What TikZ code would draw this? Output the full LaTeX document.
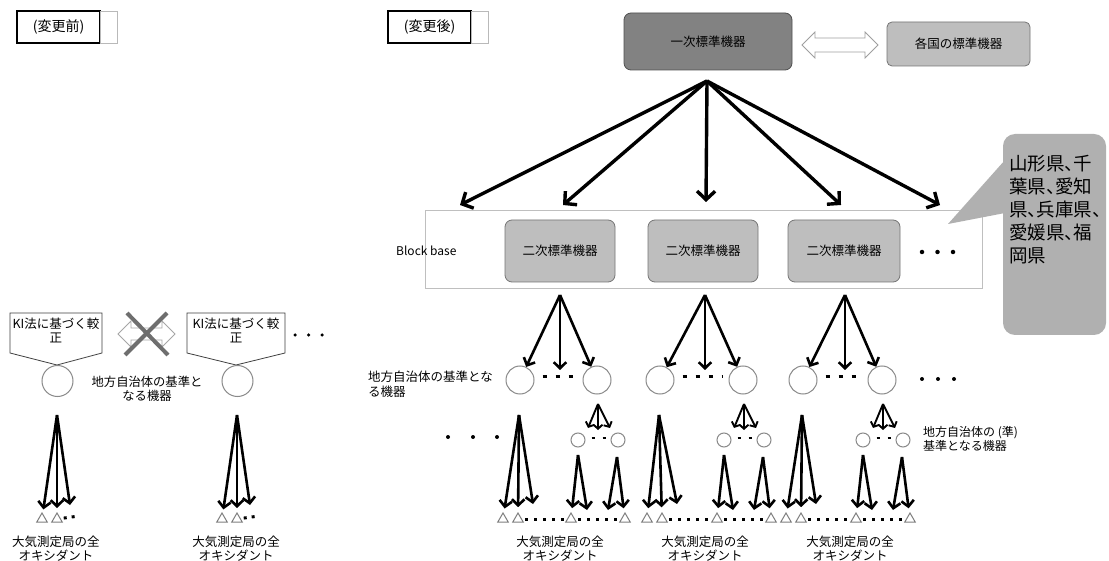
\documentclass[tikz,border=0pt]{standalone}
\usepackage{fontspec}
\newfontfamily\jp{Noto Sans CJK JP}
\newfontfamily\jpp[RawFeature=+palt]{Noto Sans CJK JP}
\usetikzlibrary{arrows.meta,shapes.geometric}
\definecolor{primfill}{HTML}{828282}
\definecolor{primline}{HTML}{505050}
\definecolor{secfill}{HTML}{BEBEBE}
\definecolor{secline}{HTML}{767676}
\definecolor{callfill}{HTML}{B0B0B0}
\definecolor{circline}{HTML}{8A8A8A}
\definecolor{triline}{HTML}{7E7E7E}
\definecolor{crossc}{HTML}{6E6E6E}
\begin{document}
\begin{tikzpicture}[x=1pt,y=-1pt,
  tagmain/.style={draw=black, line width=1.4pt, minimum width=83pt, minimum height=32pt, inner sep=0, font=\jp\fontsize{14}{16}\selectfont},
  tagside/.style={draw=gray!55, line width=0.8pt, minimum width=17pt, minimum height=32pt, inner sep=0},
  prim/.style={rounded corners=7pt, draw=primline, fill=primfill, line width=0.8pt, inner sep=0, font=\jp\fontsize{12.5}{14}\selectfont},
  sec/.style={rounded corners=7pt, draw=secline, fill=secfill, line width=0.8pt, inner sep=0, font=\jp\fontsize{12.5}{14}\selectfont},
  bigarr/.style={line width=3.4pt, -{Straight Barb[length=8.5pt,width=18pt]}},
  arr/.style={line width=2.6pt, -{Straight Barb[length=6pt,width=12.5pt]}},
  smallarr/.style={line width=1.9pt, -{Straight Barb[length=4pt,width=9pt]}},
  circ/.style={circle, draw=circline, line width=1pt, minimum size=28pt, inner sep=0},
  scirc/.style={circle, draw=circline, line width=1pt, minimum size=14pt, inner sep=0},
  tri/.style={regular polygon, regular polygon sides=3, draw=triline, line width=1pt, minimum size=12pt, inner sep=0},
  dashline/.style={line width=3pt, dash pattern=on 3pt off 6pt},
  lbl/.style={font=\jp\fontsize{12.5}{14}\selectfont, align=center, inner sep=0},
  lbll/.style={font=\jp\fontsize{12.5}{15}\selectfont, align=left, inner sep=0},
  dotc/.style={circle, fill=black, inner sep=0, minimum size=4.5pt}
]
\useasboundingbox (0,0) rectangle (1109,561);
\fill[white] (0,0) rectangle (1109,561);

% ---------- tags
\node[tagmain] (tagA) at (58.5,27) {(変更前)};
\node[tagside] (tagAs) at (108.5,27) {};
\node[tagmain] (tagB) at (429.5,27) {(変更後)};
\node[tagside] (tagBs) at (480,27) {};

% ---------- LEFT (before)
\draw[draw=black!75, line width=0.8pt, fill=white] (10,313) -- (102,313) -- (102,353) -- (57,365) -- (10,353) -- cycle;
\node[lbl] (kiA) at (56,330) {KI法に基づく較\\正};
\draw[draw=black!75, line width=0.8pt, fill=white] (187,313) -- (285,313) -- (285,353) -- (236,365) -- (187,353) -- cycle;
\node[lbl] (kiB) at (236,330) {KI法に基づく較\\正};
% crossed double arrow
\draw[draw=gray!70, line width=0.8pt, fill=white] (118,334) -- (131,321) -- (131,328) -- (162,328) -- (162,321) -- (175,334) -- (162,347) -- (162,340) -- (131,340) -- (131,347) -- cycle;
\draw[crossc, line width=4pt] (127,313) -- (168,355);
\draw[crossc, line width=4pt] (167,313) -- (125,355);
\node[dotc, minimum size=3.5pt] (ld1) at (295,335) {};
\node[dotc, minimum size=3.5pt] (ld2) at (308.5,335) {};
\node[dotc, minimum size=3.5pt] (ld3) at (322,335) {};

\node[circ, minimum size=31pt] (lcA) at (57.5,381) {};
\node[circ, minimum size=31pt] (lcB) at (237.5,381) {};
\node[lbl, font=\jp\fontsize{12.3}{14.5}\selectfont] (llab) at (147,389) {地方自治体の基準と\\なる機器};

\foreach \x/\i in {57/A,237/B} {
  \coordinate (lap\i) at (\x,415);
  \node[tri] (lt\i 1) at (\x-15,519) {};
  \node[tri] (lt\i 2) at (\x,519) {};
  \coordinate (lfree\i) at (\x+13,505);
  \coordinate (ldend\i) at (\x+22,516);
  \draw[arr, shorten >=4pt] (lap\i) -- (lt\i 1);
  \draw[arr, shorten >=4pt] (lap\i) -- (lt\i 2);
  \draw[arr] (lap\i) -- (lfree\i);
  \draw[dashline, dash pattern=on 3pt off 5pt, shorten <=3pt] (lt\i 2) -- (ldend\i);
  \node[lbl] (lbot\i) at (\x-1,549) {大気測定局の全\\オキシダント};
}

% ---------- RIGHT (after)
\node[prim, minimum width=168pt, minimum height=57pt] (prim) at (708,41.5) {一次標準機器};
\draw[draw=gray!75, line width=0.8pt, fill=white] (802,45) -- (815,32) -- (815,38) -- (865,38) -- (865,32) -- (878,45) -- (865,58) -- (865,52) -- (815,52) -- (815,58) -- cycle;
\node[sec, rounded corners=5pt, minimum width=143pt, minimum height=44pt] (intl) at (958.5,44) {各国の標準機器};

% block base
\draw[draw=gray!50, line width=0.7pt] (425,210) rectangle (982,288);
\node[font=\jp\fontsize{12}{14}\selectfont, anchor=west, inner sep=0] (bb) at (396,251) {Block base};
\node[sec, minimum width=110pt, minimum height=62pt] (sec1) at (560,251) {二次標準機器};
\node[sec, minimum width=110pt, minimum height=62pt] (sec2) at (703,251) {二次標準機器};
\node[sec, minimum width=112pt, minimum height=62pt] (sec3) at (844,251) {二次標準機器};
\node[dotc] (bd1) at (922,252) {};
\node[dotc] (bd2) at (937.5,252) {};
\node[dotc] (bd3) at (953,252) {};

% callout
\fill[callfill] (1005,160) -- (948,224) -- (1005,213) -- cycle;
\fill[callfill, rounded corners=12pt] (1003,134) rectangle (1106,335);
\node[font=\jpp\fontsize{18.5}{23}\selectfont, align=left, anchor=north west, inner sep=0] (pref) at (1009,155) {山形県、千\\葉県、愛知\\県、兵庫県、\\愛媛県、福\\岡県};

% top fan
\coordinate (topap) at (707,81);
\coordinate (tg1) at (460,205);
\coordinate (tg2) at (563,205);
\coordinate (tg3) at (706,202);
\coordinate (tg4) at (841,205);
\coordinate (tg5) at (940,205);
\foreach \k in {1,...,5} { \draw[bigarr] (topap) -- (tg\k); }

% groups
\foreach \A/\ca/\cb/\t/\lab/\i in {560/520/597/503/560/1, 705/660/743/647/705/2, 845/803/882/786/850/3} {
  \coordinate (sap\i) at (\A,295);
  \node[circ] (c\i a) at (\ca,380) {};
  \node[circ] (c\i b) at (\cb,380) {};
  \coordinate (sm\i) at (\A,370);
  \draw[arr] (sap\i) -- (c\i a);
  \draw[arr] (sap\i) -- (sm\i);
  \draw[arr] (sap\i) -- (c\i b);
  \draw[dashline, dash pattern=on 4pt off 9pt, shorten <=8pt, shorten >=6pt] ([yshift=3pt]c\i a.east) -- ([yshift=3pt]c\i b.west);
  % sub fan to small circles
  \coordinate (uap\i) at (\cb+1,404);
  \coordinate (ua\i 1) at (\cb-9,428);
  \coordinate (ua\i 2) at (\cb+1,430);
  \coordinate (ua\i 3) at (\cb+13,428);
  \draw[smallarr] (uap\i) -- (ua\i 1);
  \draw[smallarr] (uap\i) -- (ua\i 2);
  \draw[smallarr] (uap\i) -- (ua\i 3);
  \node[scirc] (s\i a) at (\cb-19,440) {};
  \node[scirc] (s\i b) at (\cb+21,440) {};
  \draw[line width=2.5pt, dash pattern=on 3pt off 8pt, shorten <=6pt, shorten >=5pt] ([yshift=2pt]s\i a.east) -- ([yshift=2pt]s\i b.west);
  % triangles
  \node[tri] (t\i 1) at (\t,519) {};
  \node[tri] (t\i 2) at (\t+15,519) {};
  \node[tri] (t\i 3) at (\cb-26,519) {};
  \node[tri] (t\i 4) at (\cb+28,519) {};
  \draw[dashline, shorten <=3pt, shorten >=3pt] (t\i 2) -- (t\i 3);
  \draw[dashline, shorten <=3pt, shorten >=3pt] (t\i 3) -- (t\i 4);
  % big fan from circle a
  \coordinate (bap\i) at (\ca-1,415);
  \coordinate (bfree\i) at (\t+30,504);
  \draw[arr, shorten >=5pt] (bap\i) -- (t\i 1);
  \draw[arr, shorten >=5pt] (bap\i) -- (t\i 2);
  \draw[arr] (bap\i) -- (bfree\i);
  % fans from small circles
  \coordinate (lap\i) at (\cb-19,455);
  \coordinate (lfr\i) at (\cb-10,510);
  \draw[arr, shorten >=5pt] (lap\i) -- (t\i 3);
  \draw[arr] (lap\i) -- (lfr\i);
  \coordinate (rap\i) at (\cb+20,457);
  \coordinate (rfr\i) at (\cb+11,510);
  \draw[arr] (rap\i) -- (rfr\i);
  \draw[arr, shorten >=5pt] (rap\i) -- (t\i 4);
  \node[lbl] (bot\i) at (\lab,549) {大気測定局の全\\オキシダント};
}

\node[lbll, anchor=west] (rlab1) at (368,384) {地方自治体の基準とな\\る機器};
\node[dotc, minimum size=4pt] (rd1) at (922,379) {};
\node[dotc, minimum size=4pt] (rd2) at (938,379) {};
\node[dotc, minimum size=4pt] (rd3) at (954,379) {};
\node[dotc, minimum size=4pt] (ed1) at (448,437) {};
\node[dotc, minimum size=4pt] (ed2) at (473,437) {};
\node[dotc, minimum size=4pt] (ed3) at (497,437) {};
\node[lbll, font=\jp\fontsize{12}{14}\selectfont, anchor=west] (rlab2) at (923,439) {地方自治体の (準)\\基準となる機器};
\end{tikzpicture}
\end{document}
